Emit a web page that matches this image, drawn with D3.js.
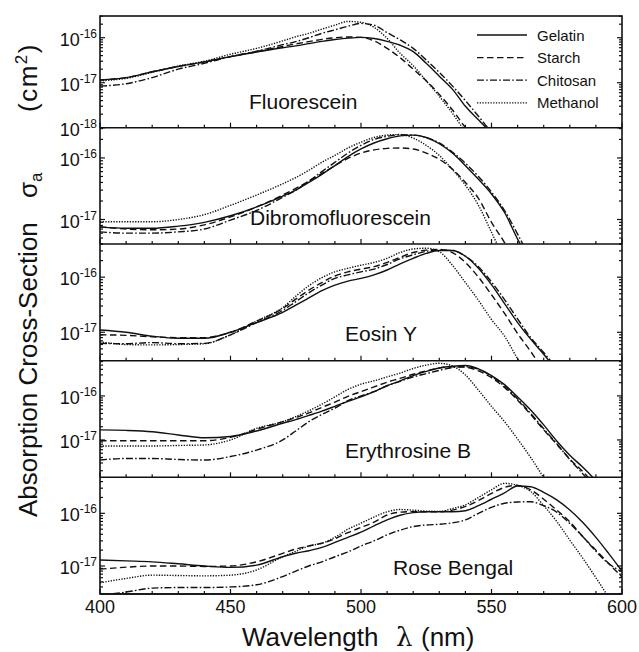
<!DOCTYPE html>
<html>
<head>
<meta charset="utf-8">
<script src="https://cdn.jsdelivr.net/npm/d3@7"></script>
<style>
  body { margin: 0; background: #fff; }
  text { font-family: "Liberation Sans", Arial, sans-serif; fill: #111; }
</style>
</head>
<body>
<svg id="chart" width="639" height="652"></svg>
<script>
// wavelengths (nm) shared by every series
const wavelengths = [400,410,420,430,440,450,460,470,475,480,485,490,495,500,505,510,515,520,525,530,535,540,545,550,555,560,565,570,575,580,585,590,595,600];

const solvents = ["Gelatin", "Starch", "Chitosan", "Methanol"];
const dyes = ["Fluorescein", "Dibromofluorescein", "Eosin Y", "Erythrosine B", "Rose Bengal"];

// absorption cross-section, in units of 1e-17 cm^2
const fluoresceinGelatin  = [1.15,1.3,1.75,2.3,2.9,3.8,4.8,6.0,6.6,7.4,8.3,9.1,9.8,10.2,9.6,8.3,6.8,4.9,2.7,1.4,0.72,0.3,0.15,0.075,0.04];
const fluoresceinStarch   = [1.15,1.3,1.75,2.3,2.9,3.8,4.9,6.4,7.3,8.2,9.2,10,10.4,10.2,8.5,5.8,3.6,2.0,1.1,0.55,0.25,0.1,0.04];
const fluoresceinChitosan = [0.84,0.95,1.3,2.0,2.7,3.8,5.0,7.0,8.2,10,12.5,15,18,20.8,19,13,9,5.8,3.2,1.7,0.85,0.4,0.18,0.08,0.04];
const fluoresceinMethanol = [1.1,1.25,1.7,2.35,3.0,4.3,5.8,8.5,10.5,12.5,15.5,19,23,22,17,9.7,4.5,2.4,1.1,0.5,0.21,0.08,0.03];

const dibromoGelatin  = [0.76,0.72,0.72,0.78,0.9,1.15,1.6,2.4,3.0,4.0,5.4,7.5,10.5,14,17.5,20.5,22.8,23.5,21.5,17,12,7.5,4.5,2.6,1.3,0.48,0.2];
const dibromoStarch   = [0.76,0.7,0.68,0.7,0.82,1.1,1.6,2.5,3.2,4.2,5.6,7.5,9.8,12,13.5,14.3,14.5,14,12,9.5,6.6,4.0,2.2,0.9,0.42,0.17];
const dibromoChitosan = [0.63,0.6,0.6,0.63,0.7,0.98,1.4,2.3,3.0,4.2,6.0,8.5,12,16,20,22.5,23.8,23.5,21.5,17.5,12.5,8.2,5.0,2.8,1.4,0.58,0.22];
const dibromoMethanol = [0.92,0.92,0.92,1.0,1.2,1.7,2.5,3.8,4.8,6.3,8.5,11,14.5,18,21.5,23.5,24,21,16,11,6.5,3.6,1.7,0.62,0.22];

const eosinGelatin  = [1.1,1.0,0.85,0.78,0.78,1.0,1.5,2.3,3.1,4.2,5.7,7.2,8.5,9.5,11,13.5,17.5,22,27,30.5,30.5,24,14.5,7.3,3.3,1.5,0.75,0.4,0.2];
const eosinStarch   = [0.9,0.88,0.83,0.8,0.8,1.0,1.6,2.7,4.0,5.8,8.0,10.5,12.5,14,15.5,18.5,23,28,31,32,28,18.5,10,4.8,2.2,0.95,0.45,0.2];
const eosinChitosan = [0.63,0.62,0.65,0.62,0.63,0.9,1.5,2.5,3.6,5.2,7.2,9.5,11,12.5,14,17,21.5,25.5,29.5,31,30.5,24,15.5,8.2,3.9,1.75,0.8,0.43,0.22];
const eosinMethanol = [0.67,0.6,0.59,0.6,0.62,0.9,1.6,2.8,4.5,7.0,9.8,12.5,14.5,16.5,18.5,22,28,32.5,33.5,29,16.5,8.0,3.8,1.7,0.85,0.33,0.14];

const erythGelatin  = [1.69,1.65,1.54,1.3,1.12,1.2,1.6,2.4,2.9,3.6,4.5,5.8,7.5,9.5,12.5,17,22,29,36,43,47,49,41,29,18,9.5,4.8,2.2,0.95,0.45,0.24,0.12];
const erythStarch   = [0.96,0.96,0.96,0.96,0.96,1.15,1.75,2.6,3.2,4.1,5.5,7.2,9.8,12.5,16,20.5,25,31,37,43,46,45,37,26,15.5,8,3.8,1.7,0.8,0.37,0.19,0.09];
const erythChitosan = [0.35,0.38,0.38,0.36,0.35,0.42,0.59,1.0,1.6,2.6,3.8,5.3,7.8,10,12.5,17,21.5,27,32,38,44,46,40,28,16.5,8.5,4.0,1.8,0.82,0.36,0.17,0.075];
const erythMethanol = [0.73,0.73,0.73,0.75,0.77,1.0,1.84,2.6,3.4,4.6,6.5,9.5,14,18.5,22,27,33,42,50,55,48,30,13.5,5.8,2.6,1.05,0.4,0.14,0.05];

const roseGelatin  = [1.3,1.25,1.2,1.1,1.0,0.94,1.04,1.5,1.75,1.95,2.25,2.8,3.5,4.4,5.8,7.5,9.2,10.3,10.7,10.7,10.7,11.2,14,18.5,24.5,33,32,25,18,11.6,6.7,3.5,1.7,0.8];
const roseStarch   = [0.87,0.95,1.0,1.0,0.98,1.0,1.2,1.74,2.1,2.4,2.7,3.3,4.3,5.4,6.8,9.3,10.5,10.8,10.7,10.7,11.5,13.5,17.5,24,31,34,28,18.5,11.5,6.9,3.6,2.0,1.1,0.62];
const roseChitosan = [0.28,0.32,0.38,0.39,0.39,0.4,0.44,0.63,0.8,1.0,1.2,1.5,1.85,2.4,3.0,3.9,4.8,5.6,6.0,6.2,6.6,7.5,10,13,15.5,16.4,16.6,14,10.5,6.4,3.6,1.9,1.1,0.78];
const roseMethanol = [0.48,0.58,0.67,0.66,0.65,0.67,0.84,1.5,1.9,2.4,2.7,3.5,5.0,6.5,8.5,10.7,11.8,11.5,11,10.9,12.3,14.5,20,28,37,34,26,14,7.0,3.1,1.4,0.6,0.25];

const panelSeries = [
  [fluoresceinGelatin, fluoresceinStarch, fluoresceinChitosan, fluoresceinMethanol],
  [dibromoGelatin, dibromoStarch, dibromoChitosan, dibromoMethanol],
  [eosinGelatin, eosinStarch, eosinChitosan, eosinMethanol],
  [erythGelatin, erythStarch, erythChitosan, erythMethanol],
  [roseGelatin, roseStarch, roseChitosan, roseMethanol]
];
// y-axis range of each panel (units of 1e-17 cm^2)
const yDomains = [[0.1, 30.4], [0.4, 31], [0.305, 40], [0.142, 63], [0.294, 48.3]];
const xTickLabels = [400, 450, 500, 550, 600];

// layout
const left = 100, right = 622;
const panelEdges = [16, 127.7, 244, 360.7, 477.3, 594];
const labelPos = [[249, 109], [250, 225], [345, 341], [345, 458], [393, 575]];
const dashes = ["none", "6.5,3.5", "7,2.2,1.6,2.2", "1.3,1.4"];

const svg = d3.select("#chart");
const x = d3.scaleLinear().domain([400, 600]).range([left, right]);

const line = d3.line()
  .x(function(d) { return x(d[0]); })
  .curve(d3.curveMonotoneX);

panelSeries.forEach(function(series, p) {
  const top = panelEdges[p], bottom = panelEdges[p + 1];
  const y = d3.scaleLog().domain(yDomains[p]).range([bottom, top]);
  const g = svg.append("g");

  g.append("clipPath").attr("id", "clip" + p)
    .append("rect").attr("x", left).attr("y", top)
    .attr("width", right - left).attr("height", bottom - top);

  // curves
  series.forEach(function(vals, s) {
    const pts = vals.map(function(v, i) { return [wavelengths[i], v]; });
    g.append("path")
      .attr("clip-path", "url(#clip" + p + ")")
      .attr("d", line.y(function(d) { return y(d[1]); })(pts))
      .attr("fill", "none")
      .attr("stroke", "#111")
      .attr("stroke-width", 1.4)
      .attr("stroke-dasharray", dashes[s]);
  });

  // y ticks, both sides, pointing inward
  y.ticks().forEach(function(t) {
    const major = Math.abs(Math.log10(t) - Math.round(Math.log10(t))) < 1e-6;
    const len = major ? 5 : 3;
    const yy = y(t);
    g.append("line").attr("x1", left).attr("x2", left + len).attr("y1", yy).attr("y2", yy)
      .attr("stroke", "#111").attr("stroke-width", 1.2);
    g.append("line").attr("x1", right).attr("x2", right - len).attr("y1", yy).attr("y2", yy)
      .attr("stroke", "#111").attr("stroke-width", 1.2);
    if (major) {
      const lab = g.append("text")
        .attr("x", 97).attr("y", yy + 8)
        .attr("text-anchor", "end")
        .style("font-size", "18px");
      lab.append("tspan").text("10");
      lab.append("tspan").attr("dy", -8).style("font-size", "12px")
        .text(String(Math.round(Math.log10(t)) - 17));
    }
  });

  // x ticks at bottom of each panel, pointing up
  d3.range(400, 601, 10).forEach(function(t) {
    const len = t % 50 === 0 ? 5 : 3;
    g.append("line").attr("x1", x(t)).attr("x2", x(t))
      .attr("y1", bottom).attr("y2", bottom - len)
      .attr("stroke", "#111").attr("stroke-width", 1.2);
  });

  // separator
  g.append("line").attr("x1", left).attr("x2", right).attr("y1", bottom).attr("y2", bottom)
    .attr("stroke", "#111").attr("stroke-width", 1.5);

  // dye name
  g.append("text")
    .attr("x", labelPos[p][0]).attr("y", labelPos[p][1])
    .style("font-size", "21px")
    .text(dyes[p]);
});

// outer frame
svg.append("rect")
  .attr("x", left).attr("y", panelEdges[0])
  .attr("width", right - left).attr("height", panelEdges[5] - panelEdges[0])
  .attr("fill", "none").attr("stroke", "#111").attr("stroke-width", 1.6);

// x tick labels
svg.selectAll(".xlab").data(xTickLabels).enter().append("text")
  .attr("class", "xlab")
  .attr("x", function(d) { return x(d); })
  .attr("y", 613)
  .attr("text-anchor", "middle")
  .style("font-size", "18px")
  .text(function(d) { return d; });

// legend
const legend = svg.append("g");
solvents.forEach(function(name, s) {
  const ly = 35 + s * 22.6;
  legend.append("line").attr("x1", 477).attr("x2", 527).attr("y1", ly).attr("y2", ly)
    .attr("stroke", "#111").attr("stroke-width", 1.3).attr("stroke-dasharray", dashes[s]);
  legend.append("text").attr("x", 537).attr("y", ly + 5.5)
    .style("font-size", "15px").text(name);
});

// axis titles
svg.append("text").attr("x", 242).attr("y", 646).style("font-size", "26px").text("Wavelength");
svg.append("text").attr("x", 396).attr("y", 646)
  .style("font-size", "26px").style("font-family", "'DejaVu Serif', serif").text("λ");
svg.append("text").attr("x", 421).attr("y", 646).style("font-size", "26px").text("(nm)");

const yt = svg.append("g").attr("transform", "translate(37,0) rotate(-90)");
yt.append("text").attr("x", -517).attr("y", 0).style("font-size", "26px").text("Absorption Cross-Section");
const sig = yt.append("text").attr("x", -198).attr("y", 0).style("font-size", "26px");
sig.append("tspan").text("σ");
sig.append("tspan").attr("dy", 5).style("font-size", "17px").text("a");
const cm = yt.append("text").attr("x", -112).attr("y", 0)
  .style("font-size", "26px").style("letter-spacing", "1.5px");
cm.append("tspan").text("(cm");
cm.append("tspan").attr("dy", -10).style("font-size", "17px").text("2");
cm.append("tspan").attr("dy", 10).text(")");
</script>
</body>
</html>
